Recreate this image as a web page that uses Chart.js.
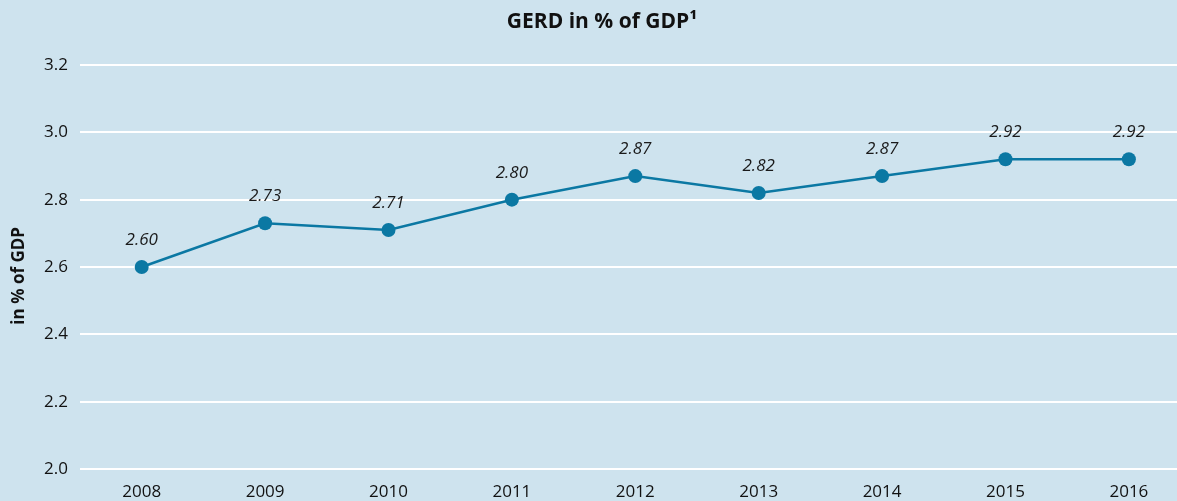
<!DOCTYPE html>
<html>
<head>
<meta charset="utf-8">
<script src="https://cdn.jsdelivr.net/npm/chart.js@4/dist/chart.umd.min.js"></script>
<style>
  html, body { margin: 0; padding: 0; background: #cee3ee; }
  #wrap { width: 1177px; height: 501px; }
</style>
</head>
<body>
<div id="wrap"><canvas id="gerdChart" width="1177" height="501"></canvas></div>
<script>
const years = [2008, 2009, 2010, 2011, 2012, 2013, 2014, 2015, 2016];
const gerdValues = [2.60, 2.73, 2.71, 2.80, 2.87, 2.82, 2.87, 2.92, 2.92];
const yTicks = [2.0, 2.2, 2.4, 2.6, 2.8, 3.0, 3.2];

const fontFamily = "'Open Sans', 'Noto Sans', sans-serif";
const lineColor = '#0b78a3';
const chartTitle = 'GERD in % of GDP¹';

// value labels above each point, plus the title (sits a bit right of centre in the original)
const valueLabels = {
    id: 'valueLabels',
    afterDatasetsDraw(chart) {
        const ctx = chart.ctx;
        const meta = chart.getDatasetMeta(0);
        ctx.save();
        ctx.font = 'italic 17px ' + fontFamily;
        ctx.fillStyle = '#1a1a1a';
        ctx.textAlign = 'center';
        ctx.textBaseline = 'middle';
        meta.data.forEach(function(pt, i) {
            ctx.fillText(gerdValues[i].toFixed(2), pt.x, pt.y - 27);
        });
        ctx.font = 'bold 21px ' + fontFamily;
        ctx.fillStyle = '#111';
        ctx.fillText(chartTitle, 602, 22);
        ctx.restore();
    }
};

const ctx = document.getElementById('gerdChart').getContext('2d');
new Chart(ctx, {
    type: 'line',
    data: {
        datasets: [{
            data: years.map(function(y, i) { return { x: y, y: gerdValues[i] }; }),
            borderColor: lineColor,
            backgroundColor: lineColor,
            borderWidth: 2.5,
            pointRadius: 7,
            pointBackgroundColor: lineColor,
            pointBorderWidth: 0,
            tension: 0
        }]
    },
    options: {
        responsive: false,
        animation: false,
        layout: { padding: { top: 65, left: 0, right: 0, bottom: 0 }, autoPadding: false },
        plugins: {
            legend: { display: false },
            tooltip: { enabled: false },
            title: { display: false }
        },
        scales: {
            x: {
                type: 'linear',
                min: 2007.5,
                max: 2016.39,
                afterFit: function(scale) {
                    scale.height = 32;
                    scale.paddingLeft = 0;
                    scale.paddingRight = 0;
                },
                grid: { display: false, drawTicks: false },
                border: { display: false },
                ticks: {
                    stepSize: 1,
                    includeBounds: false,
                    padding: 13,
                    color: '#111',
                    font: { family: fontFamily, size: 17 },
                    maxRotation: 0,
                    callback: function(v) { return Number.isInteger(v) ? String(v) : ''; }
                }
            },
            y: {
                min: 2.0,
                max: 3.2,
                afterFit: function(scale) {
                    scale.width = 80;
                    scale.paddingTop = 0;
                    scale.paddingBottom = 0;
                },
                afterBuildTicks: function(scale) {
                    scale.ticks = yTicks.map(function(v) { return { value: v }; });
                },
                grid: { color: '#ffffff', lineWidth: 2, drawTicks: false },
                border: { display: false },
                ticks: {
                    padding: 12,
                    color: '#111',
                    font: { family: fontFamily, size: 17 },
                    callback: function(v) { return v.toFixed(1); }
                },
                title: {
                    display: true,
                    text: 'in % of GDP\u00a0\u00a0\u00a0\u00a0',
                    color: '#111',
                    font: { family: fontFamily, size: 17, weight: 'bold' },
                    padding: { top: 9, bottom: 0 }
                }
            }
        }
    },
    plugins: [valueLabels]
});
</script>
</body>
</html>
